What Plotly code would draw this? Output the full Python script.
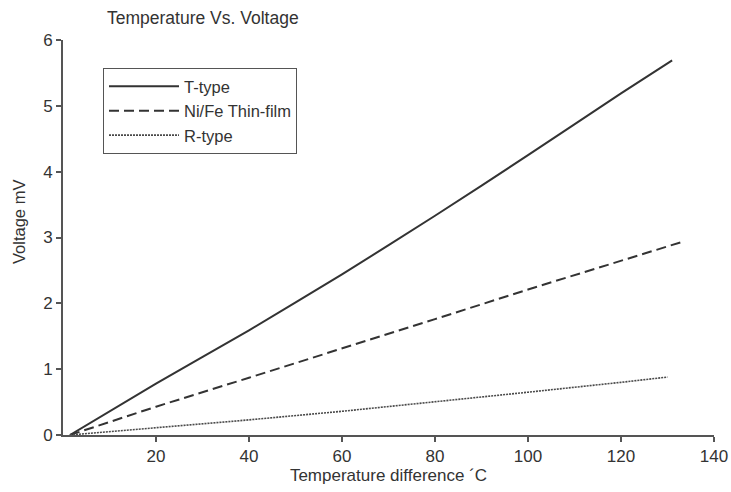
import plotly.graph_objects as go

# Data
t_type_x = [1.5, 20, 40, 60, 80, 100, 120, 131]
t_type_y = [0.0, 0.78, 1.59, 2.44, 3.33, 4.25, 5.19, 5.69]

nife_x = [1.5, 20, 40, 60, 80, 100, 120, 133]
nife_y = [0.0, 0.43, 0.87, 1.31, 1.76, 2.21, 2.65, 2.93]

r_type_x = [1.5, 20, 40, 60, 80, 100, 120, 130]
r_type_y = [0.0, 0.11, 0.23, 0.36, 0.50, 0.65, 0.80, 0.88]

x_ticks = [20, 40, 60, 80, 100, 120, 140]
y_ticks = [0, 1, 2, 3, 4, 5, 6]

FONT = "Liberation Sans, Arial, sans-serif"
TXT = "#333333"
LINE = "#333333"

fig = go.Figure()
fig.add_trace(go.Scatter(x=t_type_x, y=t_type_y, mode="lines", name="T-type",
                         line=dict(color=LINE, width=2, dash="solid", shape="spline", smoothing=0.6)))
fig.add_trace(go.Scatter(x=nife_x, y=nife_y, mode="lines", name="Ni/Fe Thin-film",
                         line=dict(color=LINE, width=2, dash="10px,5px")))
fig.add_trace(go.Scatter(x=r_type_x, y=r_type_y, mode="lines", name="R-type",
                         line=dict(color="#4a4a4a", width=1.6, dash="2px,1px")))

fig.update_layout(
    width=731, height=492,
    margin=dict(l=63, r=17, t=40, b=57),
    paper_bgcolor="white", plot_bgcolor="white",
    font=dict(family=FONT, size=17, color=TXT),
    title=dict(text="Temperature Vs. Voltage", x=107/731, xanchor="left",
               y=1 - 18/492, yanchor="middle", font=dict(size=17.5, color=TXT)),
    showlegend=True,
    legend=dict(x=(103 - 63) / 651, y=(435 - 68) / 395, xanchor="left", yanchor="top",
                bordercolor="#555555", borderwidth=1, bgcolor="white",
                font=dict(size=16.5, color=TXT), itemwidth=70, tracegroupgap=0),
    xaxis=dict(range=[0, 140], tickvals=x_ticks, showgrid=False, zeroline=False,
               showline=True, linecolor="#555555", linewidth=2, automargin=False,
               ticks="outside", ticklen=5, tickwidth=1.5, tickcolor="#555555",
               tickfont=dict(size=17, color=TXT),
               title=dict(text="Temperature difference ´C", font=dict(size=17, color=TXT), standoff=2)),
    yaxis=dict(range=[0, 6], tickvals=y_ticks, showgrid=False, zeroline=False,
               showline=True, linecolor="#555555", linewidth=2, automargin=False,
               ticks="outside", ticklen=5, tickwidth=1.5, tickcolor="#555555",
               tickfont=dict(size=17, color=TXT)),
    annotations=[dict(text="Voltage mV", textangle=-90, x=(19 - 63) / 651, y=(435 - 222) / 395,
                      xref="paper", yref="paper", showarrow=False, xanchor="center", yanchor="middle",
                      font=dict(size=16.5, color=TXT, family=FONT))],
)

fig.write_html("out.html", config={"displayModeBar": False},
               post_script="document.body.style.margin='0px';")
